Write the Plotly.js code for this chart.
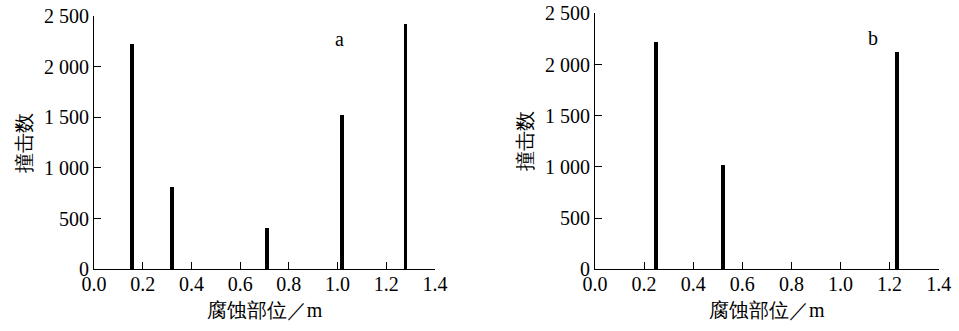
<!DOCTYPE html>
<html>
<head>
<meta charset="utf-8">
<script src="https://cdn.plot.ly/plotly-3.0.1.min.js"></script>
<style>html,body{margin:0;padding:0;background:#fff;}#chart{width:959px;height:331px;}</style>
</head>
<body>
<div id="chart"></div>
<script>
// Panel a
const posA = [0.155, 0.321, 0.709, 1.019, 1.279];
const hitsA = [2220, 810, 410, 1520, 2420];
// Panel b
const posB = [0.248, 0.520, 1.229];
const hitsB = [2220, 1020, 2120];
// Tick labels
const yTickVals = [0, 500, 1000, 1500, 2000, 2500];
const yTickText = ['0', '500', '1 000', '1 500', '2 000', '2 500'];
const xTickVals = [0, 0.2, 0.4, 0.6, 0.8, 1.0, 1.2, 1.4];
const xTickText = ['0.0', '0.2', '0.4', '0.6', '0.8', '1.0', '1.2', '1.4'];
const xTitle = '腐蚀部位／m';
const yTitle = '撞击数';
const panelLabels = ['a', 'b'];

const FONT = 'Liberation Serif';

const traces = [
  {type: 'bar', x: posA, y: hitsA, width: 0.015, marker: {color: '#000', line: {width: 0}}, xaxis: 'x', yaxis: 'y', hoverinfo: 'x+y'},
  {type: 'bar', x: posB, y: hitsB, width: 0.015, marker: {color: '#000', line: {width: 0}}, xaxis: 'x2', yaxis: 'y2', hoverinfo: 'x+y'}
];

function xax(domain, anchor) {
  return {
    domain: domain, anchor: anchor, range: [0, 1.4], autorange: false,
    tickmode: 'array', tickvals: xTickVals, ticktext: xTickText,
    ticks: 'inside', ticklen: 7, tickwidth: 1, tickcolor: '#000',
    showline: true, linecolor: '#000', linewidth: 1, mirror: false,
    showgrid: false, zeroline: false,
    tickfont: {family: FONT, size: 20, color: '#000'},
    ticklabelstandoff: -3,
    title: {text: xTitle, font: {family: FONT, size: 20, color: '#000'}, standoff: 8},
    automargin: false, fixedrange: true
  };
}
function yax(domain, anchor) {
  return {
    domain: domain, anchor: anchor, range: [0, 2500], autorange: false,
    tickmode: 'array', tickvals: yTickVals, ticktext: yTickText,
    ticks: 'inside', ticklen: 7, tickwidth: 1, tickcolor: '#000',
    showline: true, linecolor: '#000', linewidth: 1, mirror: false,
    showgrid: false, zeroline: false,
    tickfont: {family: FONT, size: 20, color: '#000'},
    title: {text: yTitle, font: {family: FONT, size: 20, color: '#000'}, standoff: 6},
    automargin: false, fixedrange: true
  };
}

const layout = {
  width: 959, height: 331,
  margin: {l: 0, r: 0, t: 0, b: 0},
  paper_bgcolor: '#fff', plot_bgcolor: '#fff',
  showlegend: false, bargap: 0,
  font: {family: FONT, color: '#000', size: 20},
  xaxis: xax([94/959, 435/959], 'y'),
  yaxis: yax([(331-269.3)/331, (331-16)/331], 'x'),
  xaxis2: xax([595/959, 938.7/959], 'y2'),
  yaxis2: yax([(331-269.3)/331, (331-13.3)/331], 'x2'),
  annotations: [
    {xref: 'x', yref: 'y', x: 1.006, y: 2273, text: panelLabels[0], showarrow: false, font: {family: FONT, size: 20, color: '#000'}},
    {xref: 'x2', yref: 'y2', x: 1.134, y: 2256, text: panelLabels[1], showarrow: false, font: {family: FONT, size: 20, color: '#000'}}
  ]
};

Plotly.newPlot('chart', traces, layout, {displayModeBar: false, staticPlot: true});
</script>
</body>
</html>
